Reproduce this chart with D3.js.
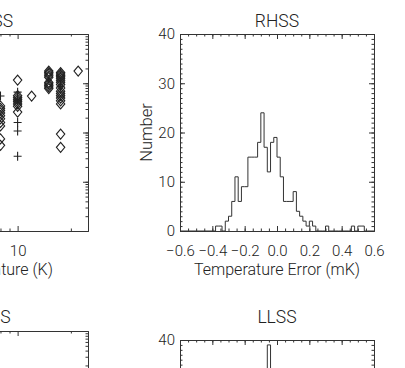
<!DOCTYPE html>
<html>
<head>
<meta charset="utf-8">
<script src="https://cdn.jsdelivr.net/npm/d3@7"></script>
<style>
  body { margin: 0; background: #fff; }
  svg { display: block; }
  text { font-family: Roboto, sans-serif; font-weight: 300; fill: #222; }
</style>
</head>
<body>
<svg width="405" height="368"></svg>
<script>
// scatter, top-left panel (temperature K vs value, log-log)
const diamondTemp = [8, 8, 8, 8, 8, 8, 8, 8, 8, 8,
  10, 10, 10, 10, 10, 10, 10, 10,
  12,
  15, 15, 15, 15, 15, 15, 15, 15, 15, 15,
  17.5, 17.5, 17.5, 17.5, 17.5, 17.5, 17.5, 17.5, 17.5, 17.5, 17.5, 17.5, 17.5, 17.5, 17.5, 17.5, 17.5,
  22]
const diamondVal = [3.45, 3.1, 2.8, 2.5, 2.2, 1.9, 1.6, 1.36, 0.74, 0.55,
  11.6, 5.6, 5.1, 4.6, 4.2, 3.8, 3.4, 2.6,
  5.5,
  17.7, 16.5, 15.4, 14.2, 13.2, 10.4, 9.7, 9.0, 8.4, 7.8,
  16.5, 15.4, 14.4, 13.5, 12.6, 11.5, 10.5, 9.4, 8.0, 6.9, 6.2, 5.6, 5.0, 4.4, 3.8, 0.93, 0.50,
  17.7]
const plusTemp = [8, 10, 10, 10, 10, 10, 17.5]
const plusVal = [5.5, 6.6, 4.4, 1.6, 1.07, 0.33, 8.6]

// histogram, top-right panel (bin left edge in mK, count)
const rhssErr = [-0.40, -0.38, -0.36, -0.34, -0.32, -0.30, -0.28, -0.26, -0.24, -0.22,
  -0.20, -0.18, -0.16, -0.14, -0.12, -0.10, -0.08, -0.06, -0.04, -0.02,
  0.00, 0.02, 0.04, 0.06, 0.08, 0.10, 0.12, 0.14, 0.16, 0.18,
  0.20, 0.22, 0.24, 0.26, 0.28, 0.30, 0.32, 0.34, 0.36, 0.38,
  0.40, 0.42, 0.44, 0.46, 0.48, 0.50, 0.52, 0.54]
const rhssCount = [0, 1, 1, 0, 2, 3, 6, 11, 6, 9,
  9, 15, 15, 15, 18, 24, 17, 12, 18, 19,
  15, 11, 6, 6, 6, 8, 4, 3, 2, 1,
  2, 1, 0, 0, 0, 1, 0, 0, 0, 0,
  0, 0, 0, 1, 0, 1, 1, 0]

// histogram, bottom-right panel
const llssErr = [-0.08, -0.06, -0.04]
const llssCount = [0, 39, 0]

const xTicksErr = [-0.6, -0.4, -0.2, 0.0, 0.2, 0.4, 0.6]
const yTicksNum = [0, 10, 20, 30, 40]

const svg = d3.select("svg")
const W = 194, H = 197

function box(g, x, y, opt) {
  const ink = "#333"
  g.append("g").attr("transform", "translate(0," + H + ")")
    .call(d3.axisBottom(x).tickValues(opt.xMajor).tickSize(-5).tickSizeOuter(0)
      .tickPadding(14).tickFormat(opt.xFmt))
  g.append("g").attr("transform", "translate(0," + H + ")")
    .call(d3.axisBottom(x).tickValues(opt.xMinor).tickSize(-2.5).tickSizeOuter(0).tickFormat(""))
  g.append("g")
    .call(d3.axisTop(x).tickValues(opt.xMajor).tickSize(-5).tickSizeOuter(0).tickFormat(""))
  g.append("g")
    .call(d3.axisTop(x).tickValues(opt.xMinor).tickSize(-2.5).tickSizeOuter(0).tickFormat(""))
  g.append("g")
    .call(d3.axisLeft(y).tickValues(opt.yMajor).tickSize(-5).tickSizeOuter(0)
      .tickPadding(5).tickFormat(opt.yFmt))
  g.append("g")
    .call(d3.axisLeft(y).tickValues(opt.yMinor).tickSize(-2.5).tickSizeOuter(0).tickFormat(""))
  g.append("g").attr("transform", "translate(" + W + ",0)")
    .call(d3.axisRight(y).tickValues(opt.yMajor).tickSize(-5).tickSizeOuter(0).tickFormat(""))
  g.append("g").attr("transform", "translate(" + W + ",0)")
    .call(d3.axisRight(y).tickValues(opt.yMinor).tickSize(-2.5).tickSizeOuter(0).tickFormat(""))
  g.selectAll(".domain, .tick line").attr("stroke", ink).attr("stroke-width", 1)
  g.selectAll(".tick text").attr("font-size", 15).attr("font-family", null)
  g.selectAll("g").attr("font-size", null).attr("font-family", null)

  g.append("text").attr("x", W / 2).attr("y", opt.titleY).attr("text-anchor", "middle")
    .attr("font-size", 17.5).text(opt.title)
  g.append("text").attr("x", W / 2 + (opt.xLabelDx || 0)).attr("y", H + 44).attr("text-anchor", "middle")
    .attr("font-size", 16).text(opt.xLabel)
  if (opt.yLabel) {
    g.append("text").attr("transform", "translate(-28," + H / 2 + ") rotate(-90)")
      .attr("text-anchor", "middle").attr("font-size", 16.5).text(opt.yLabel)
  }
}

function minorLinear(lo, hi, step) {
  return d3.range(Math.round((hi - lo) / step) + 1).map(i => +(lo + i * step).toFixed(4))
}

// ---- top-left scatter (its y labels lie off the page) ----
const g1 = svg.append("g").attr("transform", "translate(-106,34)")
const x1 = d3.scaleLog().domain([2, 25]).range([0, W])
const y1 = d3.scaleLog().domain([0.01, 100]).range([H, 0])
box(g1, x1, y1, {
  xMajor: [10], xMinor: x1.ticks().filter(d => d !== 10),
  yMajor: [0.01, 0.1, 1, 10, 100], yMinor: y1.ticks(),
  xFmt: d3.format("d"), yFmt: "",
  title: "RHSS", titleY: -7, xLabel: "Temperature (K)", xLabelDx: 5
})
g1.selectAll(".dia").data(diamondTemp).enter().append("path")
  .attr("d", "M0,-5L4.2,0L0,5L-4.2,0Z")
  .attr("transform", (d, i) => "translate(" + x1(d) + "," + y1(diamondVal[i]) + ")")
  .attr("fill", "none").attr("stroke", "#222").attr("stroke-width", 1.1)
g1.selectAll(".plus").data(plusTemp).enter().append("path")
  .attr("d", "M-4,0H4M0,-4.5V4.5")
  .attr("transform", (d, i) => "translate(" + x1(d) + "," + y1(plusVal[i]) + ")")
  .attr("fill", "none").attr("stroke", "#222").attr("stroke-width", 1.1)

// ---- top-right histogram ----
const g2 = svg.append("g").attr("transform", "translate(180,34)")
const x2 = d3.scaleLinear().domain([-0.6, 0.6]).range([0, W])
const y2 = d3.scaleLinear().domain([0, 40]).range([H, 0])
box(g2, x2, y2, {
  xMajor: xTicksErr, xMinor: minorLinear(-0.6, 0.6, 0.05),
  yMajor: yTicksNum, yMinor: minorLinear(0, 40, 1),
  xFmt: d3.format(".1f"), yFmt: d3.format("d"),
  title: "RHSS", titleY: -7, xLabel: "Temperature Error (mK)", yLabel: "Number"
})
const stepPts = (edges, counts) => {
  const pts = [[-0.6, 0]]
  edges.forEach((e, i) => { pts.push([e, counts[i]]) })
  pts.push([edges[edges.length - 1] + 0.02, 0], [0.6, 0])
  return pts
}
const stepLine = (x, y) => d3.line().x(d => x(d[0])).y(d => y(d[1])).curve(d3.curveStepAfter)
g2.append("path").datum(stepPts(rhssErr, rhssCount))
  .attr("d", stepLine(x2, y2)).attr("fill", "none").attr("stroke", "#333").attr("stroke-width", 1)

// ---- bottom-left scatter (mostly off page) ----
const g3 = svg.append("g").attr("transform", "translate(-106,331)")
box(g3, x1, y1, {
  xMajor: [10], xMinor: x1.ticks().filter(d => d !== 10),
  yMajor: [0.01, 0.1, 1, 10, 100], yMinor: y1.ticks(),
  xFmt: d3.format("d"), yFmt: "",
  title: "LLSS", titleY: -8, xLabel: "Temperature (K)"
})

// ---- bottom-right histogram ----
const g4 = svg.append("g").attr("transform", "translate(180,340)")
box(g4, x2, y2, {
  xMajor: xTicksErr, xMinor: minorLinear(-0.6, 0.6, 0.05),
  yMajor: yTicksNum, yMinor: minorLinear(0, 40, 1),
  xFmt: d3.format(".1f"), yFmt: d3.format("d"),
  title: "LLSS", titleY: -17, xLabel: "Temperature Error (mK)", yLabel: "Number"
})
g4.append("path").datum(stepPts(llssErr, llssCount))
  .attr("d", stepLine(x2, y2)).attr("fill", "none").attr("stroke", "#333").attr("stroke-width", 1)
</script>
</body>
</html>
